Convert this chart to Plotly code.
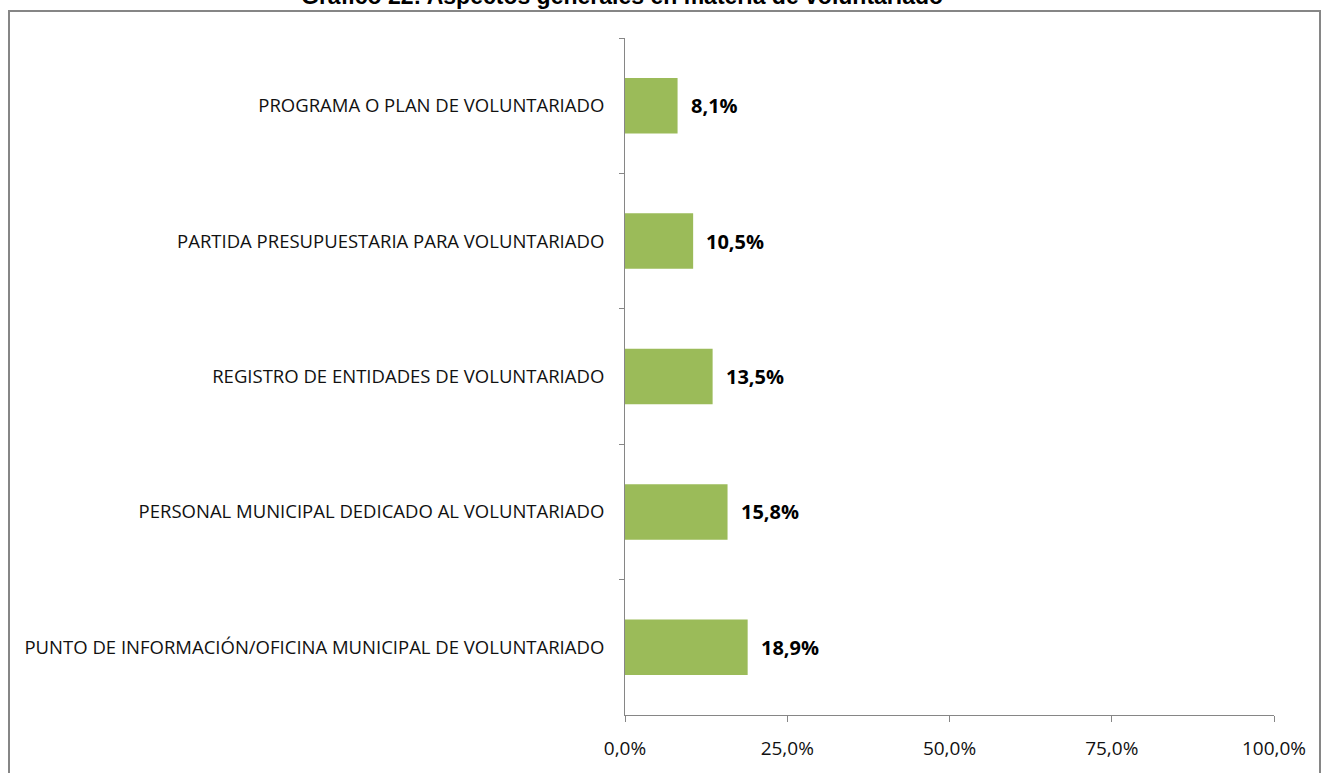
import plotly.graph_objects as go

categories = [
    "PROGRAMA O PLAN DE VOLUNTARIADO",
    "PARTIDA PRESUPUESTARIA PARA VOLUNTARIADO",
    "REGISTRO DE ENTIDADES DE VOLUNTARIADO",
    "PERSONAL MUNICIPAL DEDICADO AL VOLUNTARIADO",
    "PUNTO DE INFORMACIÓN/OFICINA MUNICIPAL DE VOLUNTARIADO",
]
values = [8.1, 10.5, 13.5, 15.8, 18.9]
x_ticks = [0, 25, 50, 75, 100]
x_tick_labels = ["0,0%", "25,0%", "50,0%", "75,0%", "100,0%"]
title_text = "Gráfico 22: Aspectos generales en materia de voluntariado"

W, H = 1321, 773
L, R, T, B = 625, 47, 38, 55
pw, ph = W - L - R, H - T - B

def px_x(x):
    return (x - L) / pw

def px_y(y):
    return (H - B - y) / ph

fig = go.Figure()
fig.add_trace(go.Bar(
    x=values, y=categories, orientation="h",
    marker=dict(color="#9BBB59", line=dict(width=0)),
    width=0.41, hoverinfo="skip",
))

annotations = []
for c, v in zip(categories, values):
    annotations.append(dict(
        x=v, y=c, xref="x", yref="y", text=f"{v:.1f}%".replace(".", ","),
        showarrow=False, xanchor="left", yanchor="middle", xshift=11,
        font=dict(family="Open Sans", size=20, color="#000000", weight="bold"),
    ))
annotations.append(dict(
    x=px_x(622), y=px_y(11), xref="paper", yref="paper", text=f"<b>{title_text}</b>",
    showarrow=False, xanchor="center", yanchor="bottom",
    font=dict(family="Liberation Sans", size=23, color="#000000"),
))

fig.update_layout(
    width=W, height=H,
    margin=dict(l=L, r=R, t=T, b=B, pad=0),
    paper_bgcolor="white", plot_bgcolor="white",
    showlegend=False,
    annotations=annotations,
    shapes=[dict(type="rect", xref="paper", yref="paper",
                 x0=px_x(9), x1=px_x(1320), y0=px_y(790), y1=px_y(11),
                 line=dict(color="#868686", width=2), fillcolor="rgba(0,0,0,0)", layer="below")],
    xaxis=dict(
        range=[0, 100], tickvals=x_ticks, ticktext=x_tick_labels,
        showgrid=False, zeroline=False, showline=True, linecolor="#868686", linewidth=1,
        ticks="outside", ticklen=6, tickcolor="#868686",
        tickfont=dict(family="Open Sans", size=19, color="#111111"),
        ticklabelstandoff=10, fixedrange=True,
    ),
    yaxis=dict(
        autorange="reversed", showgrid=False, zeroline=False,
        showline=True, linecolor="#868686", linewidth=1,
        ticks="outside", ticklen=5, tickcolor="#868686", tickson="boundaries",
        tickfont=dict(family="Open Sans", size=18.5, color="#111111"),
        ticklabelstandoff=16, fixedrange=True,
    ),
)

fig.write_html("out.html", config={"displayModeBar": False},
               post_script="document.body.style.margin='0';document.body.style.overflow='hidden';")
